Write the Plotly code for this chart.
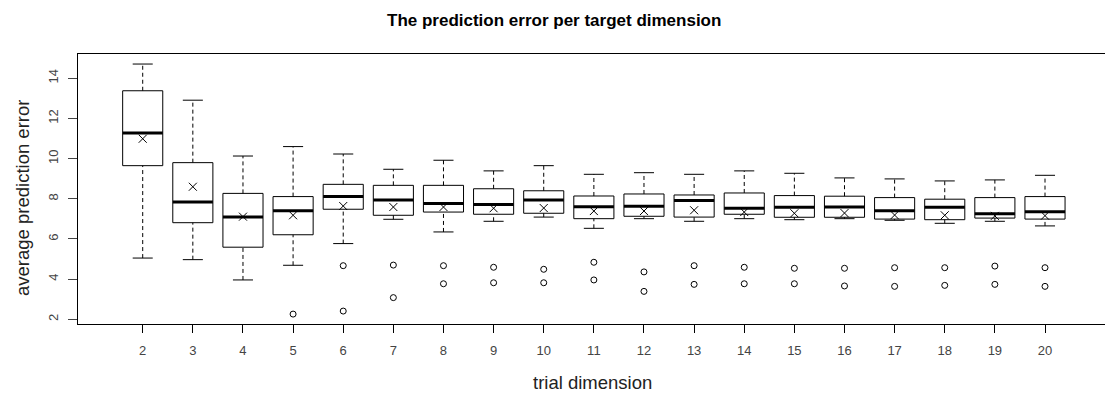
import plotly.graph_objects as go

# Summary statistics of the average prediction error for each trial dimension
dims = list(range(2, 21))
upper_whisker = [14.71, 12.91, 10.13, 10.60, 10.23, 9.47, 9.92, 9.39, 9.65, 9.22,
                 9.30, 9.22, 9.39, 9.27, 9.04, 8.99, 8.89, 8.94, 9.17]
q3 = [13.38, 9.80, 8.27, 8.11, 8.72, 8.67, 8.67, 8.50, 8.40, 8.14,
      8.24, 8.19, 8.29, 8.16, 8.13, 8.06, 7.98, 8.06, 8.11]
median = [11.28, 7.84, 7.09, 7.41, 8.11, 7.94, 7.76, 7.71, 7.94, 7.61,
          7.63, 7.91, 7.53, 7.58, 7.59, 7.41, 7.58, 7.26, 7.36]
q1 = [9.65, 6.81, 5.59, 6.21, 7.48, 7.18, 7.34, 7.23, 7.28, 7.01,
      7.13, 7.09, 7.23, 7.08, 7.08, 6.99, 6.96, 7.04, 6.99]
lower_whisker = [5.05, 4.97, 3.96, 4.69, 5.77, 6.98, 6.35, 6.88, 7.09, 6.53,
                 7.01, 6.88, 7.01, 6.96, 7.01, 6.93, 6.78, 6.88, 6.65]
mean = [10.99, 8.60, 7.11, 7.18, 7.64, 7.59, 7.59, 7.53, 7.54, 7.39,
        7.39, 7.43, 7.34, 7.28, 7.29, 7.19, 7.18, 7.15, 7.16]

outlier_dim = [5, 6, 6, 7, 7, 8, 8, 9, 9, 10, 10, 11, 11, 12, 12, 13, 13,
               14, 14, 15, 15, 16, 16, 17, 17, 18, 18, 19, 19, 20, 20]
outlier_val = [2.26, 4.67, 2.41, 4.70, 3.08, 4.67, 3.77, 4.59, 3.82, 4.49, 3.82,
               4.84, 3.96, 4.36, 3.39, 4.67, 3.74, 4.59, 3.77, 4.54, 3.77,
               4.54, 3.66, 4.57, 3.64, 4.57, 3.69, 4.65, 3.74, 4.57, 3.64]

y_ticks = [2, 4, 6, 8, 10, 12, 14]

BOX_HALF = 0.4
CAP_HALF = 0.2
FONT = "Liberation Sans, Arial, sans-serif"

shapes = []
for d, lo, a, m, b, hi in zip(dims, lower_whisker, q1, median, q3, upper_whisker):
    dash_line = dict(color="black", width=1, dash="4px,3px")
    solid = dict(color="black", width=1)
    # whiskers
    shapes.append(dict(type="line", xref="x", yref="y", x0=d, x1=d, y0=b, y1=hi, line=dash_line))
    shapes.append(dict(type="line", xref="x", yref="y", x0=d, x1=d, y0=lo, y1=a, line=dash_line))
    # staples
    shapes.append(dict(type="line", xref="x", yref="y", x0=d - CAP_HALF, x1=d + CAP_HALF,
                       y0=hi, y1=hi, line=solid))
    shapes.append(dict(type="line", xref="x", yref="y", x0=d - CAP_HALF, x1=d + CAP_HALF,
                       y0=lo, y1=lo, line=solid))
    # box
    shapes.append(dict(type="rect", xref="x", yref="y", x0=d - BOX_HALF, x1=d + BOX_HALF,
                       y0=a, y1=b, line=solid, fillcolor="rgba(0,0,0,0)"))
    # median
    shapes.append(dict(type="line", xref="x", yref="y", x0=d - BOX_HALF, x1=d + BOX_HALF,
                       y0=m, y1=m, line=dict(color="black", width=3)))

fig = go.Figure()

fig.add_trace(go.Scatter(
    x=outlier_dim, y=outlier_val, mode="markers",
    marker=dict(symbol="circle-open", size=6, color="black", line=dict(width=1)),
    showlegend=False, hoverinfo="skip",
))
fig.add_trace(go.Scatter(
    x=dims, y=mean, mode="markers",
    marker=dict(symbol="x-thin", size=8, color="black", line=dict(width=1, color="black")),
    showlegend=False, hoverinfo="skip",
))

fig.update_layout(
    width=1105, height=396,
    margin=dict(l=78, r=0, t=54, b=72),
    paper_bgcolor="white", plot_bgcolor="white",
    shapes=shapes,
    font=dict(family=FONT, color="#333"),
    annotations=[
        dict(text="<b>The prediction error per target dimension</b>", xref="paper", yref="paper",
             x=(554 - 78) / (1105 - 78), y=1, yshift=34, xanchor="center", yanchor="middle",
             showarrow=False, font=dict(family=FONT, size=17, color="black")),
        dict(text="trial dimension", xref="paper", yref="paper",
             x=(592 - 78) / (1105 - 78), y=0, yshift=-58, xanchor="center", yanchor="middle",
             showarrow=False, font=dict(family=FONT, size=18.5, color="#222")),
        dict(text="average prediction error", xref="paper", yref="paper",
             x=0, xshift=-56, y=(324 - 198) / (324 - 54), xanchor="center", yanchor="middle",
             textangle=-90, showarrow=False, font=dict(family=FONT, size=18.5, color="#222")),
    ],
)

fig.update_xaxes(
    range=[0.709, 21.197], tickmode="array", tickvals=dims, ticktext=[str(d) for d in dims],
    ticks="outside", ticklen=8, tickcolor="black", tickwidth=1,
    showline=True, linecolor="black", linewidth=1, mirror=True,
    showgrid=False, zeroline=False,
    tickfont=dict(family=FONT, size=13, color="#444"), ticklabelstandoff=6,
)
fig.update_yaxes(
    range=[1.766, 15.21], tickmode="array", tickvals=y_ticks, ticktext=[str(v) for v in y_ticks],
    ticks="outside", ticklen=9, tickcolor="#444", tickwidth=1,
    showline=True, linecolor="black", linewidth=1, mirror=False,
    showgrid=False, zeroline=False, tickangle=-90,
    tickfont=dict(family=FONT, size=13, color="#444"), ticklabelstandoff=5,
)

fig.write_html("out.html")
